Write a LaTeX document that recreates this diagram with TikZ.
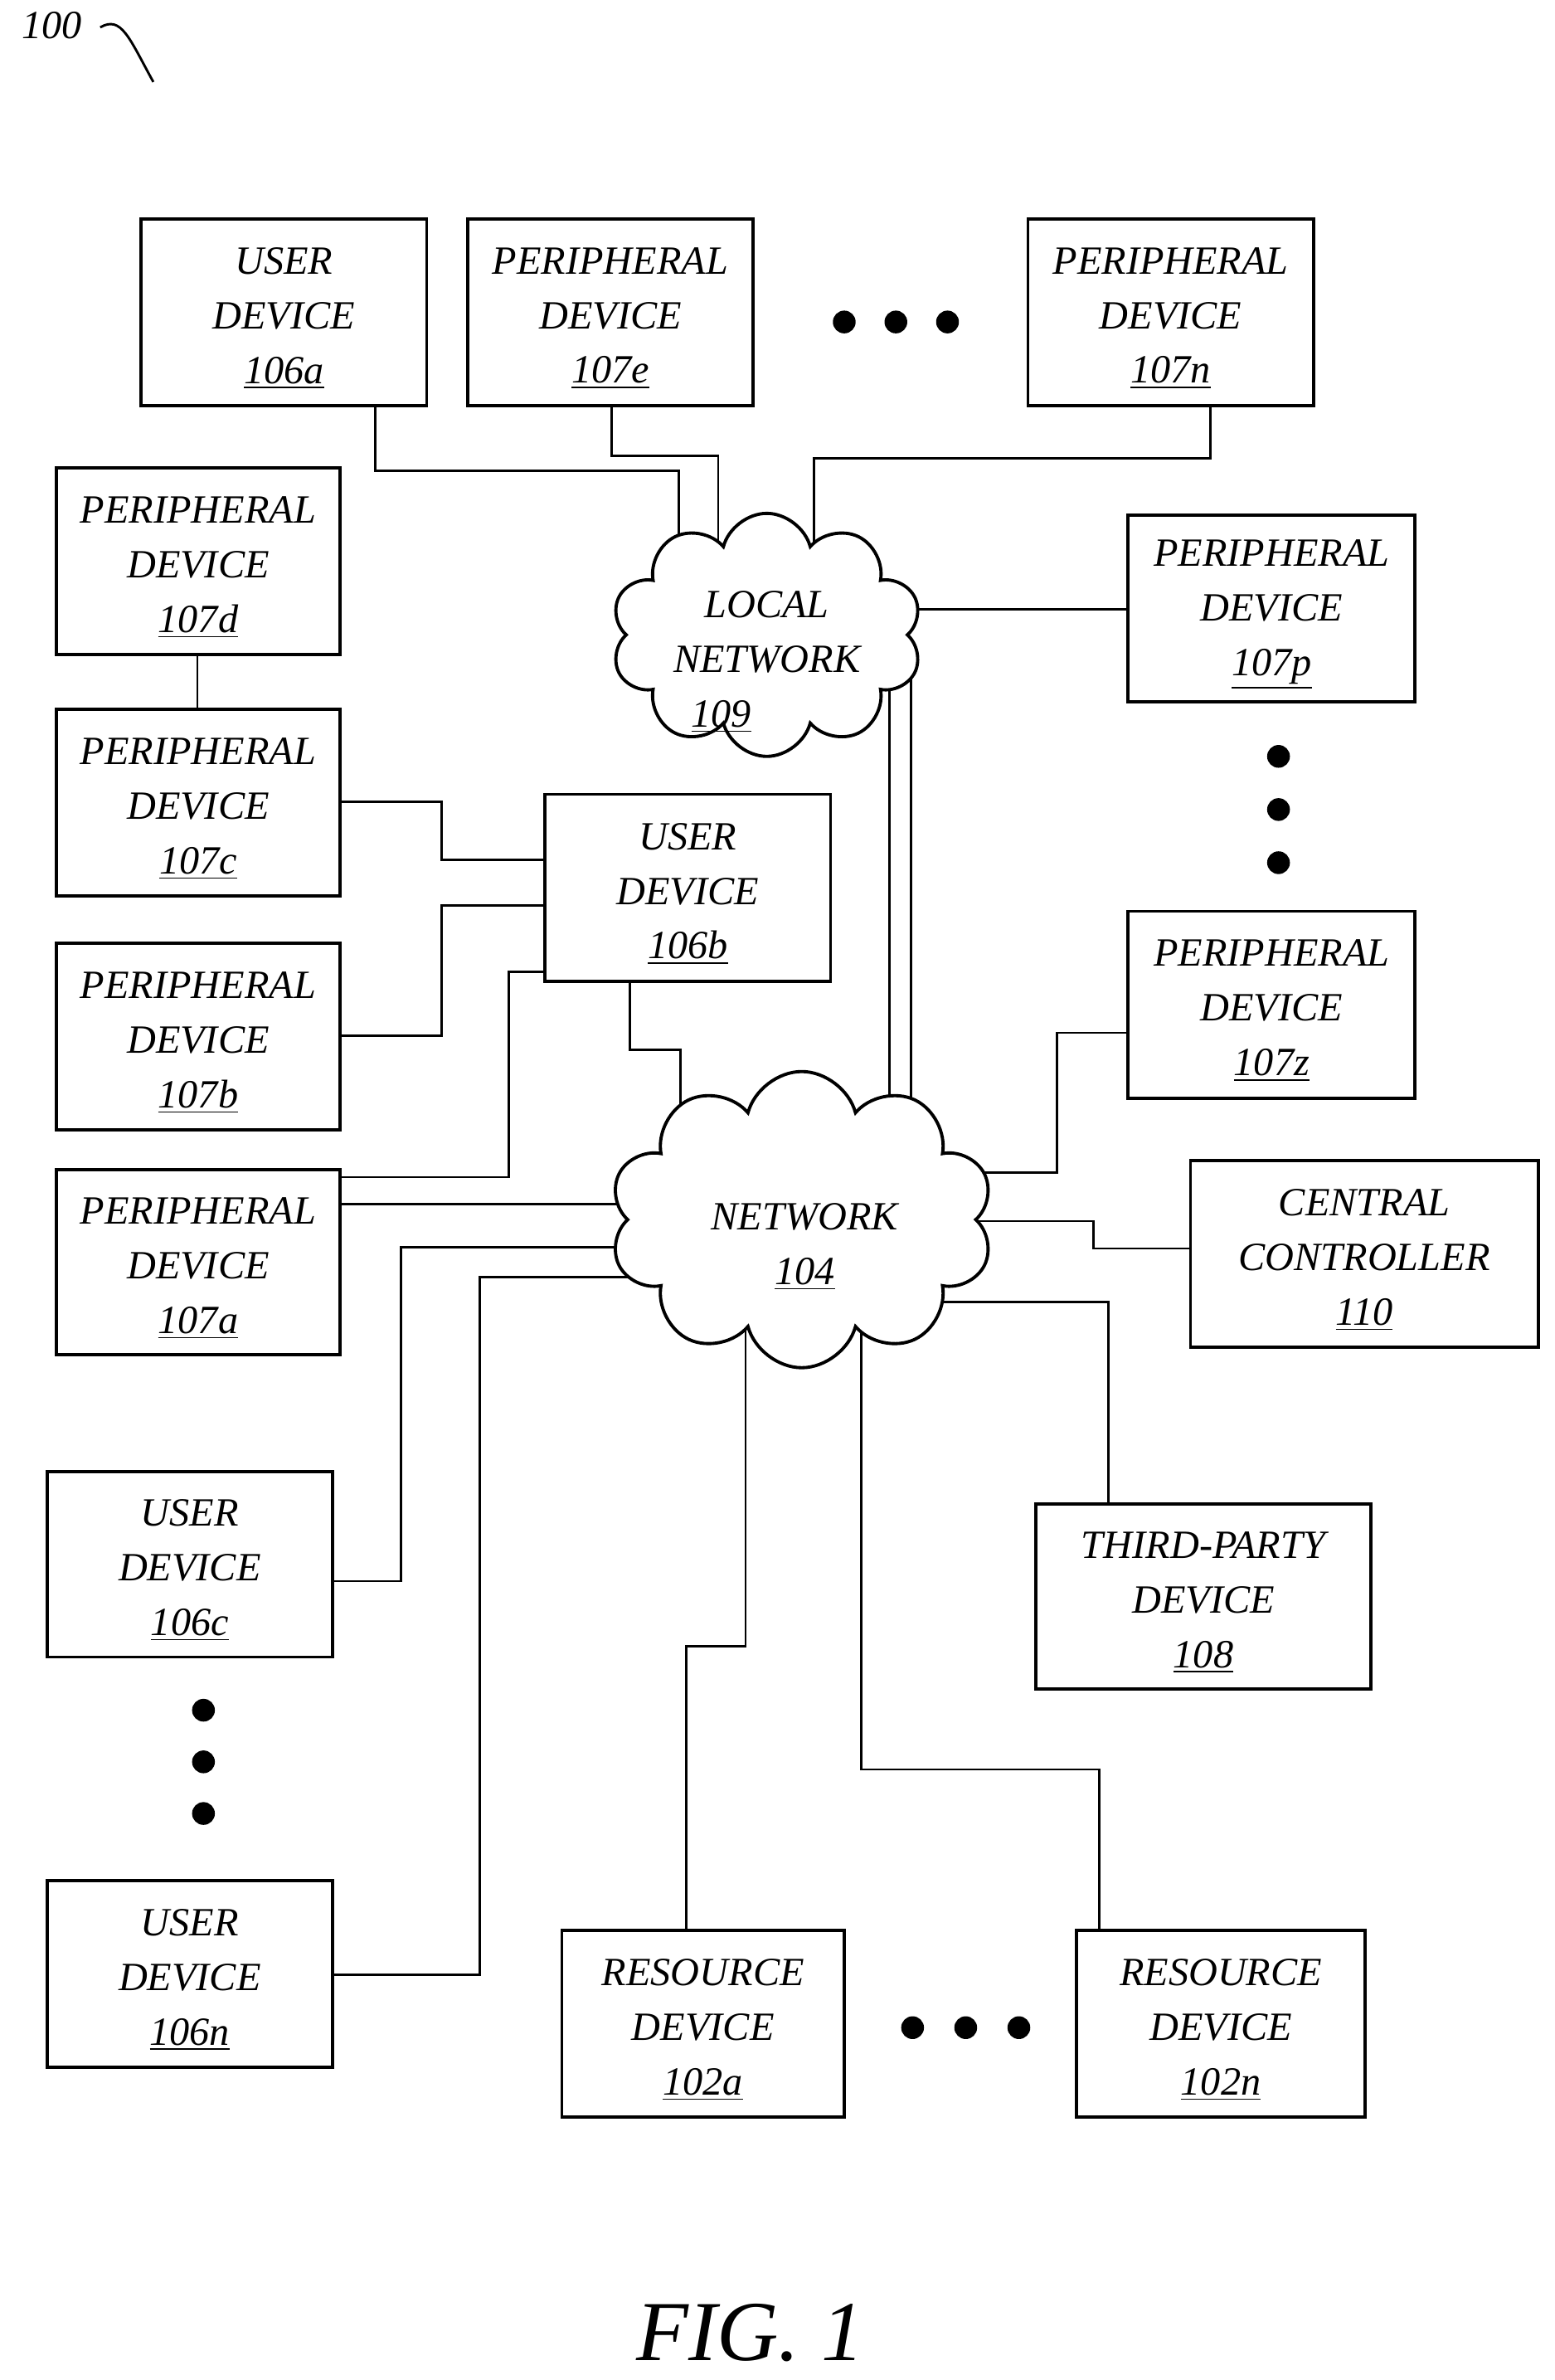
\documentclass[tikz,border=0pt]{standalone}
\usepackage{fontspec}
\setmainfont{Liberation Serif}
\usetikzlibrary{shapes.symbols}
\pgfdeclarelayer{bg}\pgfsetlayers{bg,main}
\begin{document}
\begin{tikzpicture}[x=0.02cm,y=-0.02cm,
  box/.style={draw,line width=1.2pt,inner sep=0pt},
  lbl/.style={align=center,font=\fontsize{15}{20.5}\selectfont\itshape},
  wire/.style={line width=0.9pt},
  dot/.style={fill,circle,inner sep=0pt,minimum size=0.3cm},
  cl/.style={draw,line width=1.2pt,fill=white,cloud,cloud puffs=10,aspect=1.3,inner sep=0pt}]
\useasboundingbox (0,0) rectangle (1024,1567);
\newcommand\bx[6]{\draw[box] (#2,#3) rectangle (#4,#5); \node[lbl] (#1) at ({(#2+#4)/2},{(#3+#5)/2+4}) {#6};}
\bx{d106a}{93}{144}{281}{267}{USER\\DEVICE\\\underline{106a}}
\bx{d107e}{308}{144}{496}{267}{PERIPHERAL\\DEVICE\\\underline{107e}}
\bx{d107n}{677}{144}{865}{267}{PERIPHERAL\\DEVICE\\\underline{107n}}
\bx{d107d}{37}{308}{224}{431}{PERIPHERAL\\DEVICE\\\underline{107d}}
\bx{d107c}{37}{467}{224}{590}{PERIPHERAL\\DEVICE\\\underline{107c}}
\bx{d107b}{37}{621}{224}{744}{PERIPHERAL\\DEVICE\\\underline{107b}}
\bx{d107a}{37}{770}{224}{892}{PERIPHERAL\\DEVICE\\\underline{107a}}
\bx{d106b}{359}{523}{547}{646}{USER\\DEVICE\\\underline{106b}}
\bx{d107p}{743}{339}{932}{462}{PERIPHERAL\\DEVICE\\\underline{107p}}
\bx{d107z}{743}{600}{932}{723}{PERIPHERAL\\DEVICE\\\underline{107z}}
\bx{d110}{784}{764}{1013}{887}{CENTRAL\\CONTROLLER\\\underline{110}}
\bx{d108}{682}{990}{903}{1112}{THIRD-PARTY\\DEVICE\\\underline{108}}
\bx{d106c}{31}{969}{219}{1091}{USER\\DEVICE\\\underline{106c}}
\bx{d106n}{31}{1238}{219}{1361}{USER\\DEVICE\\\underline{106n}}
\bx{d102a}{370}{1271}{556}{1394}{RESOURCE\\DEVICE\\\underline{102a}}
\bx{d102n}{709}{1271}{899}{1394}{RESOURCE\\DEVICE\\\underline{102n}}
\foreach \x in {556,590,624} \node[dot] at (\x,212) {};
\foreach \y in {498,533,568} \node[dot] at (842,\y) {};
\foreach \y in {1126,1160,1194} \node[dot] at (134,\y) {};
\foreach \x in {601,636,671} \node[dot] at (\x,1335) {};
\node[cl,minimum width=205*0.02cm,minimum height=160*0.02cm] (ln) at (505,418) {};
\node[lbl] at (505,436) {LOCAL\\NETWORK\\\hspace*{-1.2cm}\underline{109}};
\node[cl,minimum width=253*0.02cm,minimum height=195*0.02cm] (net) at (528,803) {};
\node[lbl] at (530,821) {NETWORK\\\underline{104}};
\begin{pgfonlayer}{bg}
\draw[wire] (247,267) |- (447,310) -- (447,400);
\draw[wire] (403,267) |- (473,300) -- (473,400);
\draw[wire] (797,267) |- (536,302) -- (536,400);
\draw[wire] (743,401) -- (560,401);
\draw[wire] (130,431) -- (130,467);
\draw[wire] (224,528) -| (291,566) -- (359,566);
\draw[wire] (224,682) -| (291,596) -- (359,596);
\draw[wire] (224,775) -| (335,640) -- (359,640);
\draw[wire] (224,793) -- (500,793);
\draw[wire] (415,646) |- (448,691) -- (448,800);
\draw[wire] (586,420) -- (586,800);
\draw[wire] (600,420) -- (600,800);
\draw[wire] (743,680) -| (696,772) -- (550,772);
\draw[wire] (784,822) -| (720,804) -- (550,804);
\draw[wire] (730,990) |- (550,857);
\draw[wire] (219,1041) -| (264,821) -- (500,821);
\draw[wire] (219,1300) -| (316,841) -- (500,841);
\draw[wire] (452,1271) |- (491,1084) -- (491,800);
\draw[wire] (724,1271) |- (567,1165) -- (567,800);
\end{pgfonlayer}
\node[lbl,anchor=west] (n100) at (8,17) {100};
\draw[wire] (66,18) .. controls (80,10) and (85,25) .. (101,54);
\node[font=\fontsize{32}{36}\selectfont\itshape] (fig) at (494,1536) {FIG. 1};
\end{tikzpicture}
\end{document}
